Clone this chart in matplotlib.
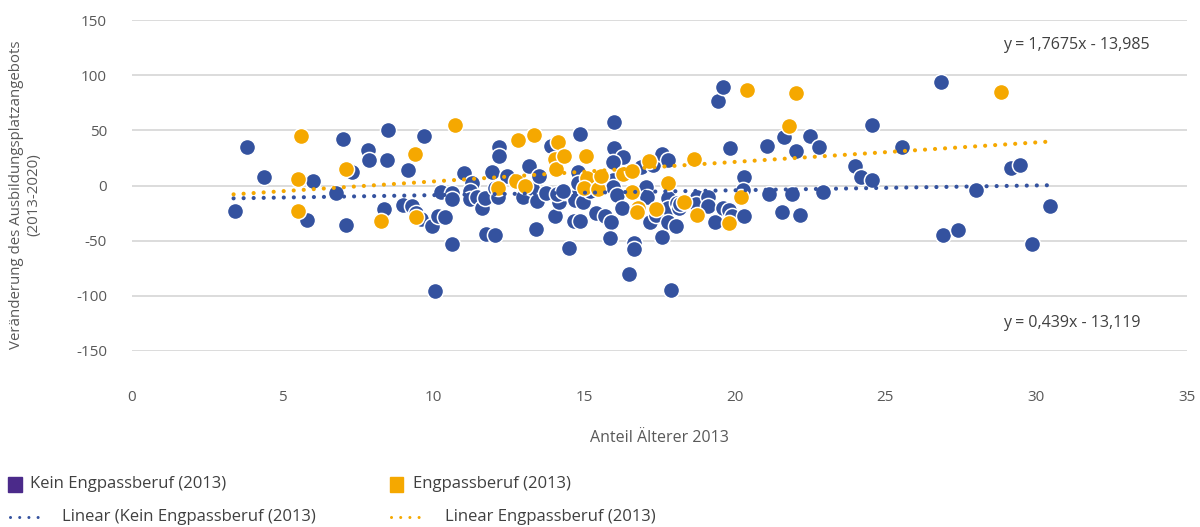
import numpy as np
import matplotlib
matplotlib.use("Agg")
import matplotlib.pyplot as plt
from matplotlib.lines import Line2D
from matplotlib.patches import Rectangle

plt.rcParams['font.family'] = ['Open Sans', 'DejaVu Sans']
plt.rcParams['axes.unicode_minus'] = False

# --- data ---
# Kein Engpassberuf (2013): Anteil Aelterer 2013 / Veraenderung Ausbildungsplatzangebot
kein_x = [3.41, 3.82, 4.39, 6.0, 5.81, 6.76, 6.99, 7.11, 7.31, 7.83, 7.85, 8.49, 8.45, 8.35,
          8.99, 9.16, 9.29, 9.44, 9.6, 9.69, 9.95, 10.14, 10.05, 10.24, 10.4, 10.63, 10.63,
          10.63, 11.03, 11.29, 11.2, 11.2, 11.46, 11.61, 11.71, 11.73, 12.03, 11.93, 12.03,
          12.13, 12.18, 12.18, 12.45, 12.99, 13.18, 13.28, 13.4, 13.45, 13.51, 13.75, 13.91,
          14.05, 14.16, 14.33, 14.51, 14.65, 14.71, 14.97, 14.67, 14.86, 14.86, 14.8, 14.8,
          14.1, 14.3, 15.2, 15.4, 15.7, 15.9, 15.85, 15.98, 15.99, 16.3, 15.97, 15.97, 15.95,
          16.1, 16.27, 16.5, 16.67, 16.67, 16.9, 17.3, 17.05, 17.1, 17.2, 17.38, 17.6, 17.6,
          17.8, 17.8, 17.8, 17.8, 18.05, 17.9, 18.1, 18.15, 18.2, 18.75, 18.72, 19.1, 19.1,
          19.34, 19.45, 19.6, 19.6, 19.8, 19.84, 19.9, 20.3, 20.3, 20.27, 21.06, 21.15, 21.57,
          21.65, 22.04, 21.91, 22.17, 22.49, 22.81, 22.93, 23.99, 24.18, 24.55, 24.57, 25.55,
          26.85, 26.9, 27.42, 28.01, 29.18, 29.46, 29.86, 30.45]
kein_y = [-23, 35, 8, 4.5, -31, -7, 42.5, -36, 12, 32, 23, 50, 23, -21,
          -18, 14, -19, -25, -30, 45, -37, -28, -96, -6, -29, -7, -12,
          -53, 11, 2, -5, -12, -10, -20, -11, -44, -45, 12, -2,
          -10, 35, 27, 9, -10, 18, -2, -39, -14, 9, -7, 36,
          -28, -15, -6, -57, -10, -13, -15, -32, -32, 47, 12, 2,
          -8, -5, -5, -25, -28, -33, -48, 58, 34, 26, 21, 5, -1,
          -9, -20, -80, -52, -58, 17, 19, -1, -10, -33, -27, -47, 29,
          23, -11, -20, -33, -37, -95, -16, -20, -17, -10, -17, -10, -19,
          -33, 77, 89, -20, -22, 34, -28, -28, 8, -4, 36, -7.5, -24,
          44, 31, -7.5, -27, 45, 35, -6, 17.5, 8, 5.4, 55, 35,
          94, -45, -40, -4, 16, 19, -53, -19]

# Engpassberuf (2013)
eng_x = [5.61, 5.52, 5.52, 7.11, 8.26, 9.39, 9.44, 10.72, 12.13, 12.8, 12.75, 13.05, 13.33,
         14.05, 14.14, 14.07, 14.35, 15.06, 15.1, 15.0, 15.47, 15.55, 16.3, 16.6, 16.6, 16.8,
         16.75, 17.15, 17.4, 17.8, 18.3, 18.65, 18.75, 19.8, 20.2, 20.4, 21.81, 22.04, 28.84]
eng_y = [45, 6, -23, 15, -32, 29, -29, 55, -2, 41, 4.5, 0, 46,
         24, 39, 15, 27, 27, 7, -2, -3, 9, 10, 13, -6, -20,
         -24, 22, -21, 2, -15, 24, -27, -34, -10, 87, 54, 84, 85]

# linear trendlines as printed in the chart
fit_kein = (0.439, -13.119)
fit_eng = (1.7675, -13.985)
fit_range = [3.37, 30.37]

blue = '#34529F'
orange = '#F5A800'
purple = '#4B2A8A'
grey = '#595959'

fig = plt.figure(figsize=(12, 5.27), dpi=100)
ax = fig.add_axes([0.11, 0.334, 0.879, 0.628])

ax.scatter(kein_x, kein_y, s=135, color=blue, edgecolors='white', linewidths=1.1, zorder=3)
ax.scatter(eng_x, eng_y, s=135, color=orange, edgecolors='white', linewidths=1.1, zorder=3)

xs = np.array(fit_range)
ax.plot(xs, fit_kein[0] * xs + fit_kein[1], color=blue, lw=3,
        linestyle=(0, (0.01, 2.4)), dash_capstyle='round', zorder=4)
ax.plot(xs, fit_eng[0] * xs + fit_eng[1], color=orange, lw=3,
        linestyle=(0, (0.01, 2.4)), dash_capstyle='round', zorder=4)

ax.text(28.9, 127, 'y = 1,7675x - 13,985', fontsize=11.5, color='#404040', va='center')
ax.text(28.9, -125, 'y = 0,439x - 13,119', fontsize=11.5, color='#404040', va='center')

ax.set_xlim(0, 35)
ax.set_ylim(-150, 150)
ax.set_xticks(range(0, 36, 5))
ax.set_yticks(range(-150, 151, 50))
for s in ax.spines.values():
    s.set_visible(False)
ax.grid(axis='y', color='#D9D9D9', lw=1.3)
ax.set_axisbelow(True)
ax.tick_params(length=0, labelsize=11, labelcolor=grey)
ax.tick_params(axis='x', pad=28)
ax.tick_params(axis='y', pad=18)

ax.set_xlabel('Anteil Älterer 2013', fontsize=11.5, color=grey, labelpad=18)
fig.text(0.021, 0.63, 'Veränderung des Ausbildungsplatzangebots\n(2013-2020)', rotation=90,
         ha='center', va='center', fontsize=10.8, color=grey, linespacing=1.15)

# legend drawn by hand below the chart
fs = 12
fig.add_artist(Rectangle((0.007, 1 - 492 / 527), 0.011, 15 / 527, color=purple, transform=fig.transFigure))
fig.text(0.025, 1 - 484 / 527, 'Kein Engpassberuf (2013)', fontsize=fs, color='#404040', va='center')
fig.add_artist(Rectangle((0.325, 1 - 492 / 527), 0.011, 15 / 527, color=orange, transform=fig.transFigure))
fig.text(0.344, 1 - 484 / 527, 'Engpassberuf (2013)', fontsize=fs, color='#404040', va='center')

fig.add_artist(Line2D([0.008, 0.036], [1 - 517 / 527] * 2, color=blue, lw=2.2,
                      linestyle=(0, (0.01, 3)), dash_capstyle='round', transform=fig.transFigure))
fig.text(0.052, 1 - 517 / 527, 'Linear (Kein Engpassberuf (2013)', fontsize=fs, color='#404040', va='center')
fig.add_artist(Line2D([0.326, 0.356], [1 - 517 / 527] * 2, color=orange, lw=2.2,
                      linestyle=(0, (0.01, 3)), dash_capstyle='round', transform=fig.transFigure))
fig.text(0.371, 1 - 517 / 527, 'Linear Engpassberuf (2013)', fontsize=fs, color='#404040', va='center')

fig.savefig('out.png', dpi=100)
